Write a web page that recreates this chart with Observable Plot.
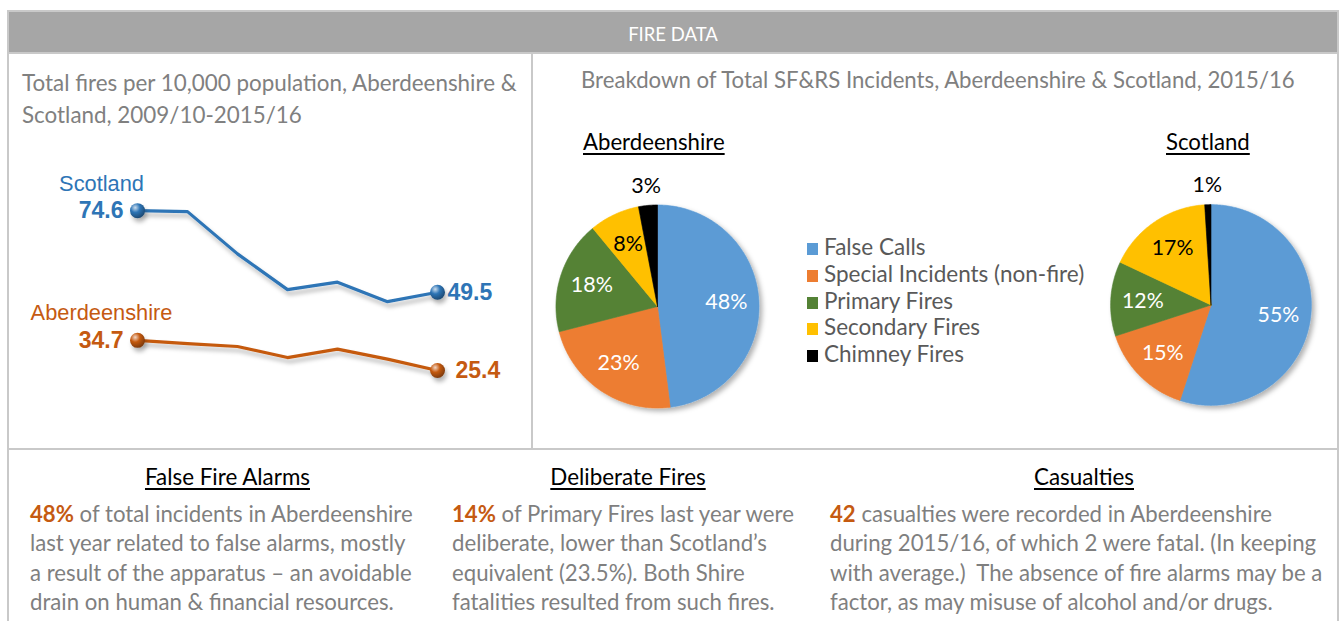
<!DOCTYPE html>
<html><head><meta charset="utf-8">
<script src="https://cdn.jsdelivr.net/npm/d3@7"></script>
<script src="https://cdn.jsdelivr.net/npm/@observablehq/plot@0.6"></script>
<style>
html,body{margin:0;padding:0;background:#fff}
body{width:1341px;height:621px;overflow:hidden;position:relative;font-family:Lato,"Open Sans",sans-serif}
.a{position:absolute;white-space:pre}
.frame{border:2px solid #c9c9c9;box-sizing:border-box}
.hd{color:#000;text-decoration:underline;text-underline-offset:3px;text-decoration-thickness:1.5px}
.body{color:#7f7f7f;font-size:22.2px;line-height:29.4px}
.org{color:#c55a11;font-weight:bold}
.leg{color:#595959;font-size:22.5px;line-height:26.8px}
.sq{display:inline-block;width:11px;height:12px;margin-right:6px;vertical-align:0px}
</style></head><body>
<div class="a frame" style="left:7px;top:10px;width:1332px;height:640px"></div>
<div class="a" style="left:9px;top:12px;width:1328px;height:40px;background:#a6a6a6;border-bottom:2px solid #c9c9c9"></div>
<div class="a" id="hdr" style="left:9px;top:12px;width:1328px;height:40px;line-height:44px;text-align:center;color:#fff;font-size:18.5px"></div>
<div class="a" style="left:531px;top:54px;width:2px;height:395px;background:#c9c9c9"></div>
<div class="a" style="left:9px;top:448px;width:1328px;height:2px;background:#c9c9c9"></div>

<div class="a" id="lt" style="left:22px;top:67px;color:#808080;font-size:22.4px;line-height:32px"></div>
<div class="a" id="rt" style="left:581px;top:65px;color:#808080;font-size:22.2px;line-height:30px"></div>
<div class="a hd" id="pt1" style="left:583px;top:128px;font-size:22.2px;line-height:28px"></div>
<div class="a hd" id="pt2" style="left:1166px;top:128px;font-size:22.2px;line-height:28px"></div>

<div class="a" id="linechart" style="left:0px;top:150px"></div>
<div class="a" id="pie1" style="left:525px;top:174px"></div>
<div class="a" id="pie2" style="left:1080px;top:174px"></div>
<div class="a leg" id="legend" style="left:807px;top:234px"></div>

<div class="a hd" id="h1" style="left:30px;width:395px;text-align:center;top:463px;font-size:22.4px;line-height:28px"></div>
<div class="a hd" id="h2" style="left:452px;width:352px;text-align:center;top:463px;font-size:22.4px;line-height:28px"></div>
<div class="a hd" id="h3" style="left:830px;width:508px;text-align:center;top:463px;font-size:22.4px;line-height:28px"></div>
<div class="a body" id="b1" style="left:30px;top:499px"></div>
<div class="a body" id="b2" style="left:452px;top:499px"></div>
<div class="a body" id="b3" style="left:830px;top:499px"></div>

<script>
// ---------- data ----------
const headerTitle = "FIRE DATA";
const lineTitle = ["Total fires per 10,000 population, Aberdeenshire &", "Scotland, 2009/10-2015/16"];
const pieTitle = "Breakdown of Total SF&RS Incidents, Aberdeenshire & Scotland, 2015/16";
const years = ["2009/10","2010/11","2011/12","2012/13","2013/14","2014/15","2015/16"];
const scotland = [74.6, 74.3, 61.3, 50.3, 52.6, 46.6, 49.5];
const aberdeenshire = [34.7, 33.7, 32.8, 29.4, 32.0, 28.9, 25.4];
const seriesNames = ["Scotland", "Aberdeenshire"];
const seriesColors = ["#2e75b6", "#c55a11"];

const pieCategories = ["False Calls", "Special Incidents (non-fire)", "Primary Fires", "Secondary Fires", "Chimney Fires"];
const pieColors = ["#5b9bd5", "#ed7d31", "#548235", "#ffc000", "#000000"];
const pieTextColors = ["#ffffff", "#ffffff", "#ffffff", "#000000", "#000000"];
const pieAreas = ["Aberdeenshire", "Scotland"];
const aberdeenshirePie = [48, 23, 18, 8, 3];
const scotlandPie = [55, 15, 12, 17, 1];

const notes = [
  {head: "False Fire Alarms", key: "48%", lines: [" of total incidents in Aberdeenshire", "last year related to false alarms, mostly", "a result of the apparatus \u2013 an avoidable", "drain on human & financial resources."]},
  {head: "Deliberate Fires", key: "14%", lines: [" of Primary Fires last year were", "deliberate, lower than Scotland\u2019s", "equivalent (23.5%). Both Shire", "fatalities resulted from such fires."]},
  {head: "Casualties", key: "42", lines: [" casualties were recorded in Aberdeenshire", "during 2015/16, of which 2 were fatal. (In keeping", "with average.)  The absence of fire alarms may be a", "factor, as may misuse of alcohol and/or drugs."]}
];

// ---------- text ----------
const esc = s => s.replace(/&/g,"&amp;").replace(/</g,"&lt;");
document.getElementById("hdr").textContent = headerTitle;
document.getElementById("lt").innerHTML = lineTitle.map(esc).join("<br>");
document.getElementById("rt").textContent = pieTitle;
document.getElementById("pt1").textContent = pieAreas[0];
document.getElementById("pt2").textContent = pieAreas[1];
document.getElementById("legend").innerHTML = pieCategories.map((c,i) =>
  `<div><span class="sq" style="background:${pieColors[i]}"></span>${esc(c)}</div>`).join("");
notes.forEach((n,i) => {
  document.getElementById("h"+(i+1)).textContent = n.head;
  document.getElementById("b"+(i+1)).innerHTML =
    `<span class="org">${n.key}</span>` + n.lines.map(esc).join("<br>");
});

// ---------- line chart ----------
const lineData = years.flatMap((yr,i) => [
  {series: seriesNames[0], year: yr, value: scotland[i]},
  {series: seriesNames[1], year: yr, value: aberdeenshire[i]}
]);
const firstPts = lineData.filter(d => d.year === years[0]);
const lastPts = lineData.filter(d => d.year === years[years.length-1]);

const defsMark = () => {
  const defs = d3.create("svg:defs");
  seriesColors.forEach((c,i) => {
    const g = defs.append("radialGradient").attr("id","sph"+i).attr("cx","35%").attr("cy","30%").attr("r","70%");
    g.append("stop").attr("offset","0%").attr("stop-color", d3.interpolateRgb(c,"#fff")(0.75));
    g.append("stop").attr("offset","45%").attr("stop-color", c);
    g.append("stop").attr("offset","100%").attr("stop-color", d3.color(c).darker(1.2));
  });
  defs.append("filter").attr("id","lshadow").attr("x","-20%").attr("y","-20%").attr("width","140%").attr("height","160%")
    .append("feDropShadow").attr("dx",2).attr("dy",4).attr("stdDeviation",2.2).attr("flood-color","#000").attr("flood-opacity",0.28);
  return defs.node();
};

const lineFont = "Liberation Sans, Arial, sans-serif";
const lineChart = Plot.plot({
  width: 532, height: 290,
  marginLeft: 136, marginRight: 95, marginTop: 42.6, marginBottom: 52.4,
  x: {type: "point", domain: years, padding: 0, axis: null},
  y: {domain: [20, 80], axis: null},
  color: {domain: seriesNames, range: seriesColors},
  marks: [
    defsMark,
    Plot.line(lineData, {x: "year", y: "value", z: "series", stroke: "series", strokeWidth: 3.2}),
    ...seriesNames.map((s,i) => Plot.dot(lineData.filter(d => d.series === s && (d.year === years[0] || d.year === years[years.length-1])),
      {x: "year", y: "value", r: 7.5, fill: `url(#sph${i})`, stroke: "none"})),
    Plot.text(firstPts, {x: "year", y: "value", text: "series", fill: "series", dx: -36, dy: -27, fontSize: 21.8, fontFamily: lineFont}),
    Plot.text(firstPts, {x: "year", y: "value", text: d => d.value.toFixed(1), fill: "series", dx: -14, textAnchor: "end", fontSize: 23, fontWeight: "bold", fontFamily: lineFont}),
    Plot.text(lastPts.filter(d => d.series === seriesNames[0]), {x: "year", y: "value", text: d => d.value.toFixed(1), fill: "series", dx: 10, textAnchor: "start", fontSize: 23, fontWeight: "bold", fontFamily: lineFont}),
    Plot.text(lastPts.filter(d => d.series === seriesNames[1]), {x: "year", y: "value", text: d => d.value.toFixed(1), fill: "series", dx: 18, textAnchor: "start", fontSize: 23, fontWeight: "bold", fontFamily: lineFont})
  ]
});
lineChart.querySelectorAll('g[aria-label="line"], g[aria-label="dot"]').forEach(g => g.setAttribute("filter","url(#lshadow)"));
document.getElementById("linechart").append(lineChart);

// ---------- pies ----------
function piePlot(values, uid) {
  const total = d3.sum(values);
  const arcs = d3.pie().sort(null)(values);
  const pts = arcs.flatMap((a,i) => {
    const n = Math.max(2, Math.ceil((a.endAngle - a.startAngle) / 0.015));
    const arr = [{cat: pieCategories[i], x: 0, y: 0}];
    for (let k = 0; k <= n; k++) {
      const ang = a.startAngle + (a.endAngle - a.startAngle) * k / n;
      arr.push({cat: pieCategories[i], x: Math.sin(ang), y: Math.cos(ang)});
    }
    arr.push({cat: pieCategories[i], x: 0, y: 0});
    return arr;
  });
  const labels = arcs.map((a,i) => {
    const mid = (a.startAngle + a.endAngle) / 2;
    const outside = values[i] / total < 0.05;
    const r = outside ? 1.19 : 0.68;
    return {cat: pieCategories[i], text: values[i] + "%", x: r * Math.sin(mid), y: r * Math.cos(mid),
            color: outside ? "#000000" : pieTextColors[i]};
  });
  const svg = Plot.plot({
    width: 264, height: 264, margin: 0,
    x: {domain: [-1.3, 1.3], axis: null},
    y: {domain: [-1.3, 1.3], axis: null},
    color: {domain: pieCategories, range: pieColors},
    marks: [
      () => {
        const defs = d3.create("svg:defs");
        defs.append("filter").attr("id","ps"+uid).attr("x","-20%").attr("y","-20%").attr("width","150%").attr("height","150%")
          .append("feDropShadow").attr("dx",3).attr("dy",3).attr("stdDeviation",2.5).attr("flood-color","#000").attr("flood-opacity",0.3);
        return defs.node();
      },
      Plot.line(pts, {x: "x", y: "y", z: "cat", fill: "cat", stroke: "cat", strokeWidth: 0.6}),
      Plot.text(labels.filter(d => d.color === "#ffffff"), {x: "x", y: "y", text: "text", fill: "#ffffff", fontSize: 21.5, fontFamily: "Lato, sans-serif"}),
      Plot.text(labels.filter(d => d.color !== "#ffffff"), {x: "x", y: "y", text: "text", fill: "#000000", fontSize: 21.5, fontFamily: "Lato, sans-serif"})
    ]
  });
  svg.querySelectorAll('g[aria-label="line"]').forEach(g => g.setAttribute("filter", `url(#ps${uid})`));
  svg.style.overflow = "visible";
  return svg;
}
document.getElementById("pie1").append(piePlot(aberdeenshirePie, "a"));
document.getElementById("pie2").append(piePlot(scotlandPie, "s"));
</script>
</body></html>
